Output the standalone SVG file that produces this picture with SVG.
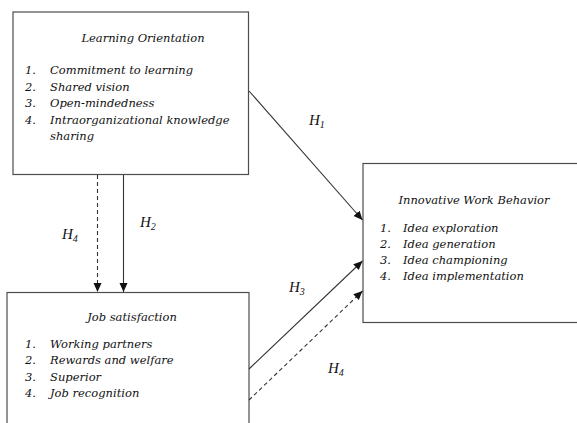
<svg xmlns="http://www.w3.org/2000/svg" width="577" height="423" viewBox="0 0 577 423">
<defs>
<style>
text{font-family:"DejaVu Serif","Liberation Serif",serif;font-style:italic;font-size:11.5px;fill:#111}
.box{fill:#fff;stroke:#4d4d4d;stroke-width:1.2}
.c{stroke:#333;stroke-width:1.1;fill:none}
.d{stroke-dasharray:4 3}
.lbl{font-family:"Liberation Serif","Times New Roman",serif;font-size:15px}
.sub{font-size:10px}
</style>
<marker id="ah" markerUnits="userSpaceOnUse" markerWidth="10" markerHeight="10" refX="9" refY="4" orient="auto">
<path d="M0,0 L9,4 L0,8 Z" fill="#111"/>
</marker>
</defs>
<rect width="577" height="423" fill="#fff"/>
<g id="learning-orientation">
<rect class="box" x="13" y="12" width="235.5" height="162.5"/>
<text x="143" y="42" text-anchor="middle">Learning Orientation</text>
<text x="25" y="74">1.</text><text x="50" y="74">Commitment to learning</text>
<text x="25" y="90.5">2.</text><text x="50" y="90.5">Shared vision</text>
<text x="25" y="107">3.</text><text x="50" y="107">Open-mindedness</text>
<text x="25" y="123.5">4.</text><text x="50" y="123.5">Intraorganizational knowledge</text>
<text x="50" y="140">sharing</text>
</g>
<g id="job-satisfaction">
<rect class="box" x="7" y="292.5" width="242" height="140"/>
<text x="132" y="321" text-anchor="middle">Job satisfaction</text>
<text x="25" y="348">1.</text><text x="50" y="348">Working partners</text>
<text x="25" y="364">2.</text><text x="50" y="364">Rewards and welfare</text>
<text x="25" y="380.5">3.</text><text x="50" y="380.5">Superior</text>
<text x="25" y="397">4.</text><text x="50" y="397">Job recognition</text>
</g>
<g id="innovative-work-behavior">
<rect class="box" x="363" y="163.5" width="230" height="159"/>
<text x="474" y="204" text-anchor="middle">Innovative Work Behavior</text>
<text x="380" y="232">1.</text><text x="403" y="232">Idea exploration</text>
<text x="380" y="247.5">2.</text><text x="403" y="247.5">Idea generation</text>
<text x="380" y="263.5">3.</text><text x="403" y="263.5">Idea championing</text>
<text x="380" y="279.5">4.</text><text x="403" y="279.5">Idea implementation</text>
</g>
<g id="connectors">
<line class="c" x1="249" y1="91" x2="362.5" y2="220" marker-end="url(#ah)"/>
<line class="c" x1="123.5" y1="175" x2="123.5" y2="292" marker-end="url(#ah)"/>
<line class="c d" x1="97.5" y1="175" x2="97.5" y2="292" marker-end="url(#ah)"/>
<line class="c" x1="249" y1="369" x2="362.5" y2="261" marker-end="url(#ah)"/>
<line class="c d" x1="249" y1="400" x2="362.5" y2="291" marker-end="url(#ah)"/>
</g>
<g id="labels">
<text class="lbl" x="309" y="125">H<tspan class="sub" dy="3">1</tspan></text>
<text class="lbl" x="140" y="227">H<tspan class="sub" dy="3">2</tspan></text>
<text class="lbl" x="62" y="239">H<tspan class="sub" dy="3">4</tspan></text>
<text class="lbl" x="289" y="292">H<tspan class="sub" dy="3">3</tspan></text>
<text class="lbl" x="328" y="373">H<tspan class="sub" dy="3">4</tspan></text>
</g>
</svg>
